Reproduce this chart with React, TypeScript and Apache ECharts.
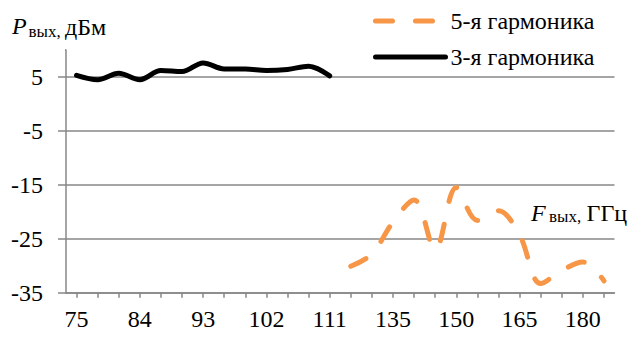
import React, { useEffect, useRef } from "react";
import * as echarts from "echarts";

// Output frequency, GHz (3rd harmonic 75..111, 5th harmonic 125..185)
const categories = [
  "75", "78", "81", "84", "87", "90", "93", "96", "99", "102", "105", "108", "111",
  "125", "130", "135", "140", "145", "150", "155", "160", "165", "170", "175", "180", "185",
];

// Output power, dBm
const harmonic3 = [5.3, 4.5, 5.7, 4.5, 6.2, 6.0, 7.6, 6.5, 6.5, 6.2, 6.4, 7.0, 5.2];
const harmonic5 = [-30.1, -27.8, -21.9, -17.8, -27.0, -15.5, -21.6, -19.8, -24.3, -33.3, -30.9, -29.3, -32.8];

const yTicks = { min: -35, max: 10, interval: 10 };

const seriesNames = ["5-я гармоника", "3-я гармоника"];

const SERIF = "Liberation Serif";
const AXIS_GRAY = "#878787";
const ORANGE = "#F79646";
const DASH = [17, 23];

type Part = { text: string; x: number; y: number; size: number; italic?: boolean };

// axis titles, each split into main letter, subscript and unit
const titleParts: Part[] = [
  { text: "P", x: 12, y: 26, size: 24, italic: true },
  { text: "вых,", x: 28.5, y: 31.5, size: 17 },
  { text: "дБм", x: 65, y: 26.5, size: 24 },
  { text: "F", x: 531, y: 213, size: 24, italic: true },
  { text: "вых,", x: 549, y: 216, size: 17 },
  { text: "ГГц", x: 586.5, y: 213, size: 24 },
];

export default function App() {
  const ref = useRef<HTMLDivElement>(null);

  useEffect(() => {
    if (!ref.current) return;
    const chart = echarts.init(ref.current, undefined, { renderer: "svg" });

    const pad = (n: number) => new Array(n).fill(null);
    const data3 = [...harmonic3, ...pad(categories.length - harmonic3.length)];
    const data5 = [...pad(categories.length - harmonic5.length), ...harmonic5];

    chart.setOption({
      animation: false,
      backgroundColor: "#fff",
      textStyle: { fontFamily: SERIF, color: "#000" },
      grid: { left: 66, right: 27.5, top: 50, bottom: 50.3 },
      legend: {
        orient: "vertical",
        left: 368,
        top: 4,
        padding: 5,
        itemGap: 12,
        itemWidth: 70,
        itemHeight: 24,
        data: [
          {
            name: seriesNames[0],
            itemStyle: { opacity: 0 },
            lineStyle: { color: ORANGE, width: 5, type: DASH, cap: "round" },
          },
          {
            name: seriesNames[1],
            itemStyle: { opacity: 0 },
            lineStyle: { color: "#000", width: 5, type: "solid", cap: "round" },
          },
        ],
        textStyle: { fontFamily: SERIF, fontSize: 24, color: "#000" },
      },
      xAxis: {
        type: "category",
        data: categories,
        boundaryGap: true,
        axisLine: { onZero: false, lineStyle: { color: AXIS_GRAY, width: 1.5 } },
        axisTick: {
          show: true,
          alignWithLabel: true,
          interval: 0,
          length: 5,
          lineStyle: { color: AXIS_GRAY, width: 1.5 },
        },
        axisLabel: {
          interval: 2,
          margin: 14,
          fontFamily: SERIF,
          fontSize: 24,
          color: "#000",
        },
        splitLine: { show: false },
      },
      yAxis: {
        type: "value",
        min: yTicks.min,
        max: yTicks.max,
        interval: yTicks.interval,
        axisLine: { show: true, lineStyle: { color: AXIS_GRAY, width: 1.5 } },
        axisTick: { show: true, length: 8, lineStyle: { color: AXIS_GRAY, width: 1.5 } },
        axisLabel: {
          margin: 23,
          fontFamily: SERIF,
          fontSize: 24,
          color: "#000",
          formatter: (v: number) => (v === yTicks.max ? "" : String(v)),
        },
        splitLine: {
          show: true,
          showMinLine: true,
          showMaxLine: false,
          lineStyle: { color: AXIS_GRAY, width: 1.5 },
        },
      },
      series: [
        {
          name: seriesNames[1],
          type: "line",
          data: data3,
          smooth: 0.35,
          showSymbol: false,
          symbol: "none",
          connectNulls: false,
          lineStyle: { color: "#000", width: 5, cap: "round", join: "round" },
          itemStyle: { color: "#000" },
        },
        {
          name: seriesNames[0],
          type: "line",
          data: data5,
          smooth: 0.35,
          showSymbol: false,
          symbol: "none",
          connectNulls: false,
          lineStyle: { color: ORANGE, width: 5, type: DASH, cap: "round", join: "round" },
          itemStyle: { color: ORANGE },
        },
      ],
      graphic: [
        // hides the y-axis tick at the top end of the axis
        { type: "rect", shape: { x: 52, y: 46, width: 13, height: 8 }, style: { fill: "#fff" }, z: 100 },
        ...titleParts.map((p) => ({
          type: "text",
          x: p.x,
          y: p.y,
          style: {
            text: p.text,
            fontFamily: SERIF,
            fontSize: p.size,
            fontStyle: p.italic ? "italic" : "normal",
            fill: "#000",
            verticalAlign: "middle",
          },
        })),
      ],
    });

    return () => chart.dispose();
  }, []);

  return (
    <div
      ref={ref}
      style={{ position: "fixed", left: 0, top: 0, width: 642, height: 343 }}
    />
  );
}
